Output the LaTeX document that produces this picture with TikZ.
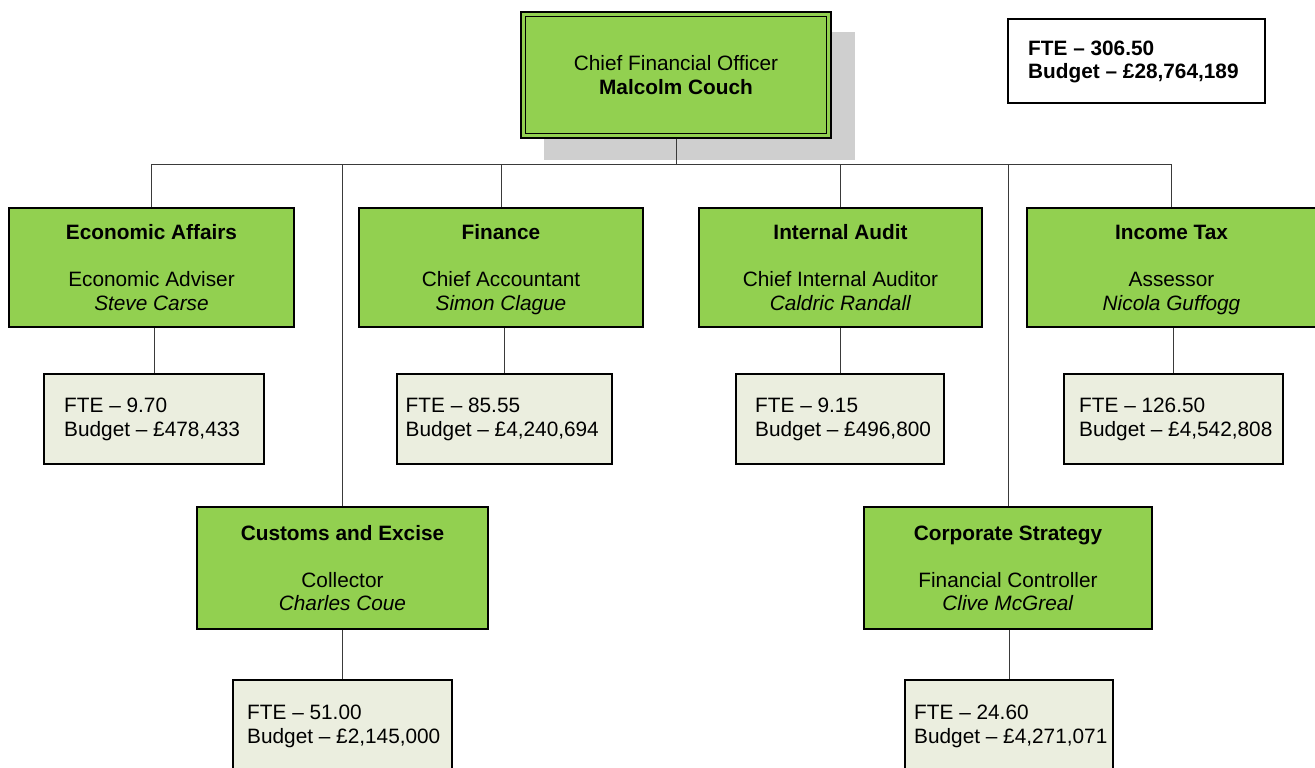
\documentclass[tikz,border=0pt]{standalone}
\usepackage{fontspec}
\setmainfont{Liberation Sans}
\definecolor{boxgreen}{HTML}{92D050}
\definecolor{ftefill}{HTML}{EBEEDF}
\definecolor{shadowgray}{HTML}{CFCFCF}
\definecolor{linegray}{HTML}{3A3A3A}
\newcommand\topstrut{\rule{0pt}{22.5pt}}
\begin{document}
\begin{tikzpicture}[x=1pt,y=-1pt,
  every node/.style={font=\fontsize{20.8}{23.5}\selectfont},
  unitbox/.style={draw=black,line width=1.2pt,fill=boxgreen,align=center,inner sep=0pt},
  ftebox/.style={draw=black,line width=1.2pt,fill=ftefill,inner sep=0pt},
  totalbox/.style={draw=black,line width=1.2pt,fill=white,inner sep=0pt},
  shadowbox/.style={fill=shadowgray,inner sep=0pt},
  ftetext/.style={anchor=west,align=left,inner sep=0pt},
  link/.style={draw=linegray,line width=0.9pt}]
\useasboundingbox (0,0) rectangle (1315,768);
\fill[white] (0,0) rectangle (1315,768);
\clip (0,0) rectangle (1315,768);

% top
\node[shadowbox,minimum width=311,minimum height=128] (cfoshadow) at (699.5,96) {};
\node[unitbox,minimum width=310,minimum height=126] (cfo) at (676,75)
  {\topstrut Chief Financial Officer\\\textbf{Malcolm Couch}\strut};
\draw[line width=1.3pt] ([shift={(5,5)}]cfo.north west) rectangle ([shift={(-5,-5)}]cfo.south east);

\node[totalbox,minimum width=257,minimum height=84] (total) at (1136.5,61) {};
\node[ftetext] (totaltext) at (1028,62) {\textbf{FTE – 306.50}\\\textbf{Budget – £28,764,189}};

% first row units
\node[unitbox,minimum width=285,minimum height=119] (ea) at (151.5,267.5)
  {\topstrut\textbf{Economic Affairs}\\\mbox{}\\Economic Adviser\\\textit{Steve Carse}\strut};
\node[unitbox,minimum width=284,minimum height=119] (fin) at (501,267.5)
  {\topstrut\textbf{Finance}\\\mbox{}\\Chief Accountant\\\textit{Simon Clague}\strut};
\node[unitbox,minimum width=283,minimum height=119] (ia) at (840.5,267.5)
  {\topstrut\textbf{Internal Audit}\\\mbox{}\\Chief Internal Auditor\\\textit{Caldric Randall}\strut};
\node[unitbox,minimum width=289,minimum height=119] (it) at (1171.5,267.5)
  {\topstrut\textbf{Income Tax}\\\mbox{}\\Assessor\\\textit{Nicola Guffogg}\strut};

% second row units
\node[unitbox,minimum width=291,minimum height=122] (ce) at (342.5,568)
  {\topstrut\textbf{Customs and Excise}\\\mbox{}\\Collector\\\textit{Charles Coue}\strut};
\node[unitbox,minimum width=288,minimum height=122] (cs) at (1008,568)
  {\topstrut\textbf{Corporate Strategy}\\\mbox{}\\Financial Controller\\\textit{Clive McGreal}\strut};

% FTE boxes
\node[ftebox,minimum width=220,minimum height=90] (eaf) at (154,419) {};
\node[ftetext] (eat) at (64,420) {\strut FTE – 9.70\\Budget – £478,433\strut};
\node[ftebox,minimum width=215,minimum height=90] (finf) at (504.5,419) {};
\node[ftetext] (fint) at (405.5,420) {\strut FTE – 85.55\\Budget – £4,240,694\strut};
\node[ftebox,minimum width=208,minimum height=90] (iaf) at (840,419) {};
\node[ftetext] (iat) at (755,420) {\strut FTE – 9.15\\Budget – £496,800\strut};
\node[ftebox,minimum width=219,minimum height=90] (itf) at (1173.5,419) {};
\node[ftetext] (itt) at (1079,420) {\strut FTE – 126.50\\Budget – £4,542,808\strut};
\node[ftebox,minimum width=219,minimum height=92] (cef) at (342.5,726) {};
\node[ftetext] (cet) at (247,727) {\strut FTE – 51.00\\Budget – £2,145,000\strut};
\node[ftebox,minimum width=208,minimum height=92] (csf) at (1009,726) {};
\node[ftetext] (cst) at (914,727) {\strut FTE – 24.60\\Budget – £4,271,071\strut};

% connectors
\coordinate (bus) at (676,164);
\draw[link] (cfo.south) -- (cfo.south |- bus);
\draw[link] (ea.north |- bus) -- (it.north |- bus);
\draw[link] (ea.north) -- (ea.north |- bus);
\draw[link] (fin.north) -- (fin.north |- bus);
\draw[link] (ia.north) -- (ia.north |- bus);
\draw[link] (it.north) -- (it.north |- bus);
\draw[link] (ce.north) -- (ce.north |- bus);
\draw[link] (cs.north) -- (cs.north |- bus);
\draw[link] (eaf.north) -- (eaf.north |- ea.south);
\draw[link] (finf.north) -- (finf.north |- fin.south);
\draw[link] (iaf.north) -- (iaf.north |- ia.south);
\draw[link] (itf.north) -- (itf.north |- it.south);
\draw[link] (cef.north) -- (cef.north |- ce.south);
\draw[link] (csf.north) -- (csf.north |- cs.south);
\end{tikzpicture}
\end{document}
